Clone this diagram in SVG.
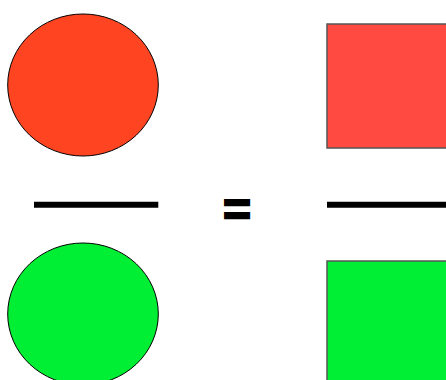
<svg xmlns="http://www.w3.org/2000/svg" width="446" height="380" viewBox="0 0 446 380">
<style>
.sh{stroke:#000;stroke-width:1}
.sq{stroke:#555;stroke-width:1.5}
.bar{stroke:#000;stroke-width:6}
.eq{font-family:"Liberation Sans",Arial,sans-serif;font-weight:bold;fill:#000;stroke:#000;stroke-width:2}
</style>
<rect width="446" height="380" fill="#fff"/>
<g id="red-circle"><ellipse class="sh" cx="83" cy="85" rx="75.3" ry="71" fill="#ff4422"/></g>
<g id="red-square"><rect class="sq" x="327" y="24" width="125" height="124" fill="#ff4a42"/></g>
<g id="green-circle"><ellipse class="sh" cx="83" cy="314" rx="75.3" ry="71" fill="#00ee33"/></g>
<g id="green-square"><rect class="sq" x="327" y="261" width="125" height="125" fill="#00ee33"/></g>
<g id="connectors">
<line class="bar" x1="34" y1="204.8" x2="158.3" y2="204.8"/>
<line class="bar" x1="327" y1="204.8" x2="452" y2="204.8"/>
</g>
<g id="equals"><text class="eq" x="237" y="226" font-size="48" text-anchor="middle">=</text></g>
</svg>
